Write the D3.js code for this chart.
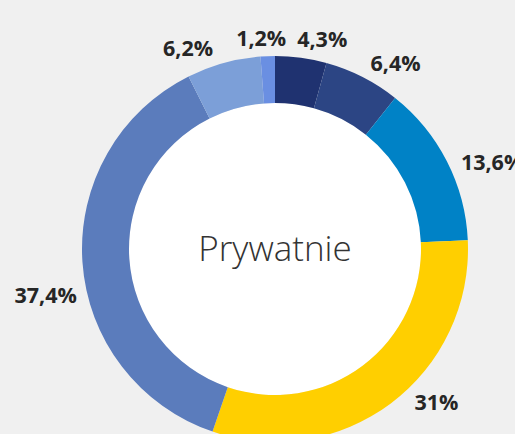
<!DOCTYPE html>
<html>
<head>
<meta charset="utf-8">
<script src="https://cdn.jsdelivr.net/npm/d3@7"></script>
<style>
  html, body { margin: 0; padding: 0; background: #f0f0f0; overflow: hidden; }
  svg { display: block; }
  .label { font-family: "Open Sans", "Noto Sans", sans-serif; font-weight: 700; font-size: 21.5px; fill: #262626; }
  .title { font-family: "Open Sans", "Noto Sans", sans-serif; font-weight: 300; font-size: 35px; fill: #333; }
</style>
</head>
<body>
<script>
// DATA
var categories = ["a", "b", "c", "d", "e", "f", "g"];
var values = [4.3, 6.4, 13.6, 31, 37.4, 6.2, 1.2];
var valueLabels = ["4,3%", "6,4%", "13,6%", "31%", "37,4%", "6,2%", "1,2%"];
var colors = ["#1f3270", "#2c4584", "#0082c6", "#ffcf00", "#5b7cbc", "#7c9fd8", "#6a8fe2"];
var centerTitle = "Prywatnie";

var width = 515, height = 434;
var cx = 275, cy = 249,
    outerR = 193, innerR = 146;

var svg = d3.select("body").append("svg")
    .attr("width", width)
    .attr("height", height);

var g = svg.append("g")
    .attr("transform", "translate(" + cx + "," + cy + ")");

var pie = d3.pie().sort(null).value(d => d.value);
var arc = d3.arc().innerRadius(innerR).outerRadius(outerR);

var data = categories.map((c, i) => ({ key: c, value: values[i], label: valueLabels[i], color: colors[i] }));
var arcs = pie(data);

// white hole
g.append("circle").attr("r", innerR).attr("fill", "#fff");

g.selectAll(".slice")
    .data(arcs)
    .enter()
    .append("path")
    .attr("class", "slice")
    .attr("d", arc)
    .attr("fill", d => d.data.color);

// labels: placed outside the ring, nudged a little so they do not collide
var labelNudge = [5, 6, 5.4, -9.6, -7.6, -8, -1.6]; // degrees
var labels = g.selectAll(".label")
    .data(arcs)
    .enter()
    .append("text")
    .attr("class", "label")
    .attr("text-anchor", "middle")
    .attr("dy", "0.35em")
    .text(d => d.data.label);

labels.each(function (d, i) {
    var w = this.getComputedTextLength();
    var a = (d.startAngle + d.endAngle) / 2 + labelNudge[i] * Math.PI / 180;
    var s = Math.sin(a), c = Math.cos(a);
    var r = outerR + 9 + Math.abs(s) * w / 2 + Math.abs(c) * 7;
    d3.select(this).attr("x", r * s).attr("y", -r * c);
});

g.append("text")
    .attr("class", "title")
    .attr("text-anchor", "middle")
    .attr("dy", "0.35em")
    .attr("y", 0)
    .text(centerTitle);
</script>
</body>
</html>
